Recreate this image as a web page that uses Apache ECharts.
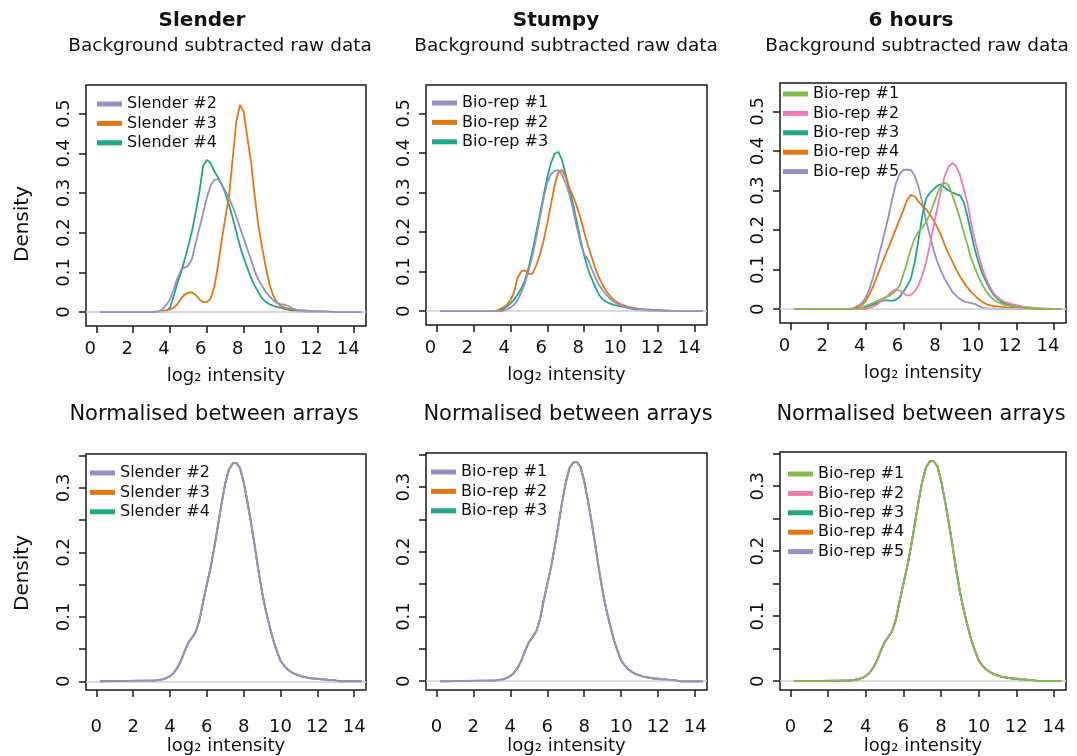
<!DOCTYPE html>
<html>
<head>
<meta charset="utf-8">
<script src="https://cdn.jsdelivr.net/npm/echarts@6/dist/echarts.min.js"></script>
<style>
html,body{margin:0;padding:0;background:#fff;}
#chart{width:1077px;height:756px;}
</style>
</head>
<body>
<div id="chart"></div>
<script>
// ---------- data ----------
const logIntensity = [
  0.2, 3.0, 3.2, 3.4, 3.6, 3.8, 4.0, 4.2, 4.4, 4.6,
  4.8, 5.0, 5.2, 5.4, 5.6, 5.8, 6.0, 6.2, 6.4, 6.6,
  6.8, 7.0, 7.2, 7.4, 7.6, 7.8, 8.0, 8.2, 8.4, 8.6,
  8.8, 9.0, 9.2, 9.4, 9.6, 9.8, 10.0, 10.2, 10.4, 10.6,
  10.8, 11.0, 11.2, 11.4, 11.6, 11.8, 12.0, 12.2, 12.4, 12.6,
  12.8, 13.0, 13.2, 13.4, 13.6, 13.8, 14.0, 14.2, 14.4
];

const xTicks = [0, 2, 4, 6, 8, 10, 12, 14];
const yTicksRaw = [0, 0.1, 0.2, 0.3, 0.4, 0.5];
const yTicksNorm = [0, 0.05, 0.1, 0.15, 0.2, 0.25, 0.3, 0.35];
const yLabelsNorm = [0, 0.1, 0.2, 0.3];

const slenderNames = ['Slender #2', 'Slender #3', 'Slender #4'];
const stumpyNames = ['Bio-rep #1', 'Bio-rep #2', 'Bio-rep #3'];
const sixHourNames = ['Bio-rep #1', 'Bio-rep #2', 'Bio-rep #3', 'Bio-rep #4', 'Bio-rep #5'];

// Slender, background subtracted raw data
const slender2Raw = [
  0, 0, 0.001, 0.002, 0.008, 0.018, 0.032, 0.057, 0.085, 0.106,
  0.112, 0.117, 0.135, 0.175, 0.212, 0.250, 0.288, 0.318, 0.333, 0.335,
  0.322, 0.305, 0.287, 0.265, 0.241, 0.213, 0.186, 0.158, 0.132, 0.103,
  0.082, 0.066, 0.051, 0.040, 0.030, 0.023, 0.020, 0.019, 0.016, 0.010,
  0.007, 0.005, 0.004, 0.004, 0.003, 0.003, 0.002, 0.002, 0.002, 0.001,
  0.001, 0, 0, 0, 0, 0, 0, 0, 0
];
const slender3Raw = [
  0, 0, 0.001, 0.002, 0.003, 0.004, 0.007, 0.011, 0.020, 0.034,
  0.044, 0.049, 0.050, 0.043, 0.032, 0.025, 0.025, 0.034, 0.062, 0.115,
  0.178, 0.237, 0.290, 0.385, 0.480, 0.522, 0.505, 0.440, 0.378, 0.292,
  0.218, 0.163, 0.113, 0.070, 0.042, 0.025, 0.016, 0.012, 0.009, 0.007,
  0.006, 0.005, 0.004, 0.003, 0.003, 0.002, 0.002, 0.002, 0.001, 0.001,
  0, 0, 0, 0, 0, 0, 0, 0, 0
];
const slender4Raw = [
  0, 0, 0, 0, 0.001, 0.003, 0.011, 0.040, 0.073, 0.100,
  0.133, 0.168, 0.205, 0.252, 0.305, 0.368, 0.383, 0.376, 0.355, 0.340,
  0.322, 0.300, 0.270, 0.238, 0.202, 0.166, 0.137, 0.111, 0.086, 0.066,
  0.050, 0.035, 0.026, 0.020, 0.016, 0.013, 0.011, 0.008, 0.006, 0.004,
  0.003, 0.002, 0.001, 0, 0, 0, 0, 0, 0, 0,
  0, 0, 0, 0, 0, 0, 0, 0, 0
];

// Stumpy, background subtracted raw data
const stumpy1Raw = [
  0, 0, 0, 0, 0.001, 0.004, 0.009, 0.016, 0.028, 0.048,
  0.072, 0.104, 0.140, 0.185, 0.235, 0.285, 0.325, 0.347, 0.355, 0.357,
  0.345, 0.323, 0.295, 0.255, 0.212, 0.172, 0.143, 0.131, 0.107, 0.085,
  0.066, 0.053, 0.041, 0.031, 0.024, 0.018, 0.014, 0.012, 0.009, 0.007,
  0.006, 0.005, 0.004, 0.004, 0.003, 0.003, 0.002, 0.002, 0.001, 0.001,
  0, 0, 0, 0, 0, 0, 0, 0, 0
];
const stumpy2Raw = [
  0, 0, 0.001, 0.004, 0.009, 0.015, 0.027, 0.047, 0.085, 0.101,
  0.103, 0.094, 0.095, 0.115, 0.142, 0.178, 0.222, 0.270, 0.318, 0.352,
  0.357, 0.339, 0.312, 0.290, 0.265, 0.235, 0.200, 0.166, 0.137, 0.108,
  0.085, 0.066, 0.050, 0.038, 0.028, 0.022, 0.017, 0.014, 0.011, 0.009,
  0.007, 0.006, 0.005, 0.004, 0.004, 0.003, 0.003, 0.002, 0.002, 0.001,
  0, 0, 0, 0, 0, 0, 0, 0, 0
];
const stumpy3Raw = [
  0, 0, 0, 0.001, 0.005, 0.011, 0.019, 0.029, 0.042, 0.058,
  0.078, 0.112, 0.152, 0.198, 0.245, 0.293, 0.338, 0.375, 0.398, 0.403,
  0.382, 0.345, 0.308, 0.270, 0.225, 0.180, 0.140, 0.106, 0.082, 0.061,
  0.041, 0.030, 0.024, 0.019, 0.016, 0.014, 0.012, 0.010, 0.008, 0.006,
  0.004, 0.003, 0.002, 0.001, 0, 0, 0, 0, 0, 0,
  0, 0, 0, 0, 0, 0, 0, 0, 0
];

// 6 hours, background subtracted raw data
const sixHour1Raw = [
  0, 0, 0, 0, 0.001, 0.004, 0.008, 0.012, 0.016, 0.021,
  0.025, 0.029, 0.033, 0.039, 0.047, 0.060, 0.088, 0.120, 0.152, 0.180,
  0.196, 0.206, 0.220, 0.240, 0.265, 0.292, 0.312, 0.320, 0.314, 0.288,
  0.260, 0.230, 0.196, 0.163, 0.128, 0.103, 0.081, 0.061, 0.045, 0.033,
  0.024, 0.018, 0.014, 0.011, 0.009, 0.007, 0.005, 0.004, 0.003, 0.003,
  0.002, 0.002, 0.001, 0.001, 0, 0, 0, 0, 0
];
const sixHour2Raw = [
  0, 0, 0, 0, 0, 0, 0.001, 0.003, 0.007, 0.012,
  0.019, 0.026, 0.036, 0.045, 0.050, 0.047, 0.041, 0.034, 0.036, 0.045,
  0.060, 0.085, 0.118, 0.160, 0.210, 0.255, 0.300, 0.338, 0.360, 0.370,
  0.362, 0.340, 0.306, 0.268, 0.218, 0.174, 0.136, 0.103, 0.077, 0.056,
  0.040, 0.030, 0.023, 0.018, 0.015, 0.012, 0.010, 0.008, 0.006, 0.005,
  0.004, 0.003, 0.002, 0.002, 0.001, 0.001, 0, 0, 0
];
const sixHour3Raw = [
  0, 0, 0, 0, 0, 0.002, 0.005, 0.009, 0.012, 0.016,
  0.020, 0.022, 0.022, 0.021, 0.024, 0.031, 0.044, 0.059, 0.078, 0.118,
  0.175, 0.235, 0.280, 0.294, 0.303, 0.312, 0.316, 0.307, 0.300, 0.295,
  0.291, 0.288, 0.272, 0.235, 0.192, 0.150, 0.117, 0.090, 0.069, 0.051,
  0.036, 0.026, 0.019, 0.014, 0.011, 0.009, 0.007, 0.006, 0.005, 0.004,
  0.003, 0.002, 0.001, 0, 0, 0, 0, 0, 0
];
const sixHour4Raw = [
  0, 0, 0, 0.001, 0.005, 0.010, 0.021, 0.038, 0.059, 0.083,
  0.108, 0.132, 0.155, 0.179, 0.203, 0.227, 0.251, 0.276, 0.289, 0.285,
  0.272, 0.262, 0.253, 0.240, 0.225, 0.207, 0.187, 0.162, 0.140, 0.121,
  0.102, 0.083, 0.069, 0.055, 0.043, 0.034, 0.025, 0.018, 0.013, 0.010,
  0.008, 0.007, 0.006, 0.005, 0.004, 0.004, 0.003, 0.002, 0.001, 0,
  0, 0, 0, 0, 0, 0, 0, 0, 0
];
const sixHour5Raw = [
  0, 0, 0.001, 0.004, 0.009, 0.016, 0.029, 0.052, 0.082, 0.118,
  0.156, 0.193, 0.233, 0.278, 0.318, 0.342, 0.352, 0.353, 0.352, 0.338,
  0.310, 0.270, 0.225, 0.186, 0.150, 0.120, 0.096, 0.076, 0.060, 0.044,
  0.034, 0.026, 0.020, 0.017, 0.015, 0.013, 0.008, 0.004, 0.002, 0.001,
  0.001, 0, 0, 0, 0, 0, 0, 0, 0, 0,
  0, 0, 0, 0, 0, 0, 0, 0, 0
];

// Normalised between arrays (all arrays coincide after normalisation)
const normalisedDensity = [
  0, 0.001, 0.001, 0.002, 0.003, 0.005, 0.008, 0.013, 0.021, 0.032,
  0.047, 0.060, 0.068, 0.077, 0.095, 0.124, 0.150, 0.176, 0.207, 0.241,
  0.276, 0.307, 0.329, 0.338, 0.339, 0.331, 0.309, 0.279, 0.246, 0.210,
  0.172, 0.138, 0.110, 0.086, 0.064, 0.047, 0.032, 0.024, 0.018, 0.014,
  0.011, 0.009, 0.007, 0.006, 0.005, 0.004, 0.004, 0.003, 0.003, 0.002,
  0.002, 0.001, 0, 0, 0, 0, 0, 0, 0
];

// ---------- styles / layout ----------
const C = {
  purple: '#9590c9', orange: '#e4770f', teal: '#1ea887',
  pink: '#f27ab4', green: '#84bb4c'
};
const FONT = '"DejaVu Sans", Verdana, sans-serif';
const INK = '#111111';

const panels = [
  { key: 's',   names: slenderNames, series: [slender2Raw, slender3Raw, slender4Raw],
    colors: [C.purple, C.orange, C.teal], raw: true,
    grid: { left: 86, top: 85, width: 280, height: 241 }, legend: { left: 97, top: 96 } },
  { key: 'st',  names: stumpyNames, series: [stumpy1Raw, stumpy2Raw, stumpy3Raw],
    colors: [C.purple, C.orange, C.teal], raw: true,
    grid: { left: 426, top: 85, width: 281, height: 240 }, legend: { left: 432, top: 95 } },
  { key: '6h',  names: sixHourNames, series: [sixHour1Raw, sixHour2Raw, sixHour3Raw, sixHour4Raw, sixHour5Raw],
    colors: [C.green, C.pink, C.teal, C.orange, C.purple], raw: true,
    grid: { left: 780, top: 83, width: 286, height: 240 }, legend: { left: 783, top: 86 } },
  { key: 'ns',  names: slenderNames, series: [normalisedDensity, normalisedDensity, normalisedDensity],
    colors: [C.purple, C.orange, C.teal], raw: false,
    grid: { left: 86, top: 454, width: 280, height: 240 }, legend: { left: 90, top: 465 } },
  { key: 'nst', names: stumpyNames, series: [normalisedDensity, normalisedDensity, normalisedDensity],
    colors: [C.purple, C.orange, C.teal], raw: false,
    grid: { left: 426, top: 453, width: 281, height: 241 }, legend: { left: 431, top: 464 } },
  { key: 'n6h', names: sixHourNames, series: [normalisedDensity, normalisedDensity, normalisedDensity, normalisedDensity, normalisedDensity],
    colors: [C.green, C.pink, C.teal, C.orange, C.purple], raw: false,
    grid: { left: 780, top: 452, width: 286, height: 241 }, legend: { left: 788, top: 466 } }
];

function pairs(ys) { return logIntensity.map((x, i) => [x, ys[i]]); }
function fmt(v) { return String(+(+v).toFixed(2)); }

const grids = [], xAxes = [], yAxes = [], legends = [], series = [];

panels.forEach((p, pi) => {
  grids.push(Object.assign({ show: true, borderColor: '#1a1a1a', borderWidth: 1.5, backgroundColor: 'transparent' }, p.grid));
  xAxes.push({
    type: 'value', gridIndex: pi, min: -0.56, max: 14.64,
    axisLine: { show: false, onZero: false },
    splitLine: { show: false },
    axisTick: { show: true, length: 7, customValues: xTicks, lineStyle: { color: '#1a1a1a', width: 1.5 } },
    axisLabel: { customValues: xTicks, fontSize: 18, fontFamily: FONT, color: INK,
                 margin: p.raw ? 14 : 28, padding: p.raw ? [0, 12, 0, 0] : 0, formatter: fmt },
    name: 'log\u2082 intensity', nameLocation: 'middle', nameGap: p.raw ? 41 : 43,
    nameTextStyle: { fontSize: 18, fontFamily: FONT, color: INK }
  });
  const yt = p.raw ? yTicksRaw : yTicksNorm;
  const yl = p.raw ? yTicksRaw : yLabelsNorm;
  yAxes.push({
    type: 'value', gridIndex: pi,
    min: p.raw ? -0.035 : -0.0137, max: p.raw ? 0.572 : 0.3527,
    axisLine: { show: false, onZero: false },
    splitLine: { show: false },
    axisTick: { show: true, length: 7, customValues: yt, lineStyle: { color: '#1a1a1a', width: 1.5 } },
    axisLabel: { customValues: yl, rotate: 90, fontSize: 18, fontFamily: FONT, color: INK,
                 margin: 13, formatter: fmt }
  });
  legends.push({
    orient: 'vertical', left: p.legend.left, top: p.legend.top, padding: 0,
    itemWidth: 25, itemHeight: 5, itemGap: 3.4, icon: 'rect', selectedMode: false,
    textStyle: { fontSize: 16, fontFamily: FONT, color: INK, lineHeight: 16 },
    data: p.names.map(n => n + '@' + p.key),
    formatter: n => n.split('@')[0]
  });
  const n = p.names.length;
  p.names.forEach((nm, si) => {
    const s = {
      type: 'line', name: nm + '@' + p.key, xAxisIndex: pi, yAxisIndex: pi,
      data: pairs(p.series[si]), symbol: 'none', showSymbol: false,
      color: p.colors[si], lineStyle: { color: p.colors[si], width: 1.8 },
      z: 2 + (n - si), silent: true, animation: false
    };
    if (si === n - 1) {
      s.markLine = {
        silent: true, symbol: ['none', 'none'], animation: false,
        label: { show: false },
        lineStyle: { color: '#cfcfcf', width: 1.5, type: 'solid' },
        data: [{ yAxis: 0 }]
      };
    }
    series.push(s);
  });
});

function txt(text, x, y, size, bold, rot) {
  return {
    type: 'text', x: x, y: y, rotation: rot || 0, silent: true,
    style: {
      text: text, font: (bold ? 'bold ' : '') + size + 'px ' + FONT, fill: INK,
      textAlign: 'center', textVerticalAlign: 'middle', align: 'center', verticalAlign: 'middle'
    }
  };
}

const graphics = [
  txt('Slender', 202, 21, 20, true),
  txt('Stumpy', 556, 21, 20, true),
  txt('6 hours', 911, 21, 20, true),
  txt('Background subtracted raw data', 220, 46, 18.5),
  txt('Background subtracted raw data', 566, 46, 18.5),
  txt('Background subtracted raw data', 917, 46, 18.5),
  txt('Normalised between arrays', 214, 415, 21),
  txt('Normalised between arrays', 568, 415, 21),
  txt('Normalised between arrays', 921, 415, 21),
  txt('Density', 23, 224, 20, false, Math.PI / 2),
  txt('Density', 23, 573, 20, false, Math.PI / 2)
];

const chart = echarts.init(document.getElementById('chart'), null, { renderer: 'canvas' });
chart.setOption({
  animation: false,
  backgroundColor: '#ffffff',
  grid: grids, xAxis: xAxes, yAxis: yAxes, legend: legends,
  series: series, graphic: { elements: graphics }
});
</script>
</body>
</html>
